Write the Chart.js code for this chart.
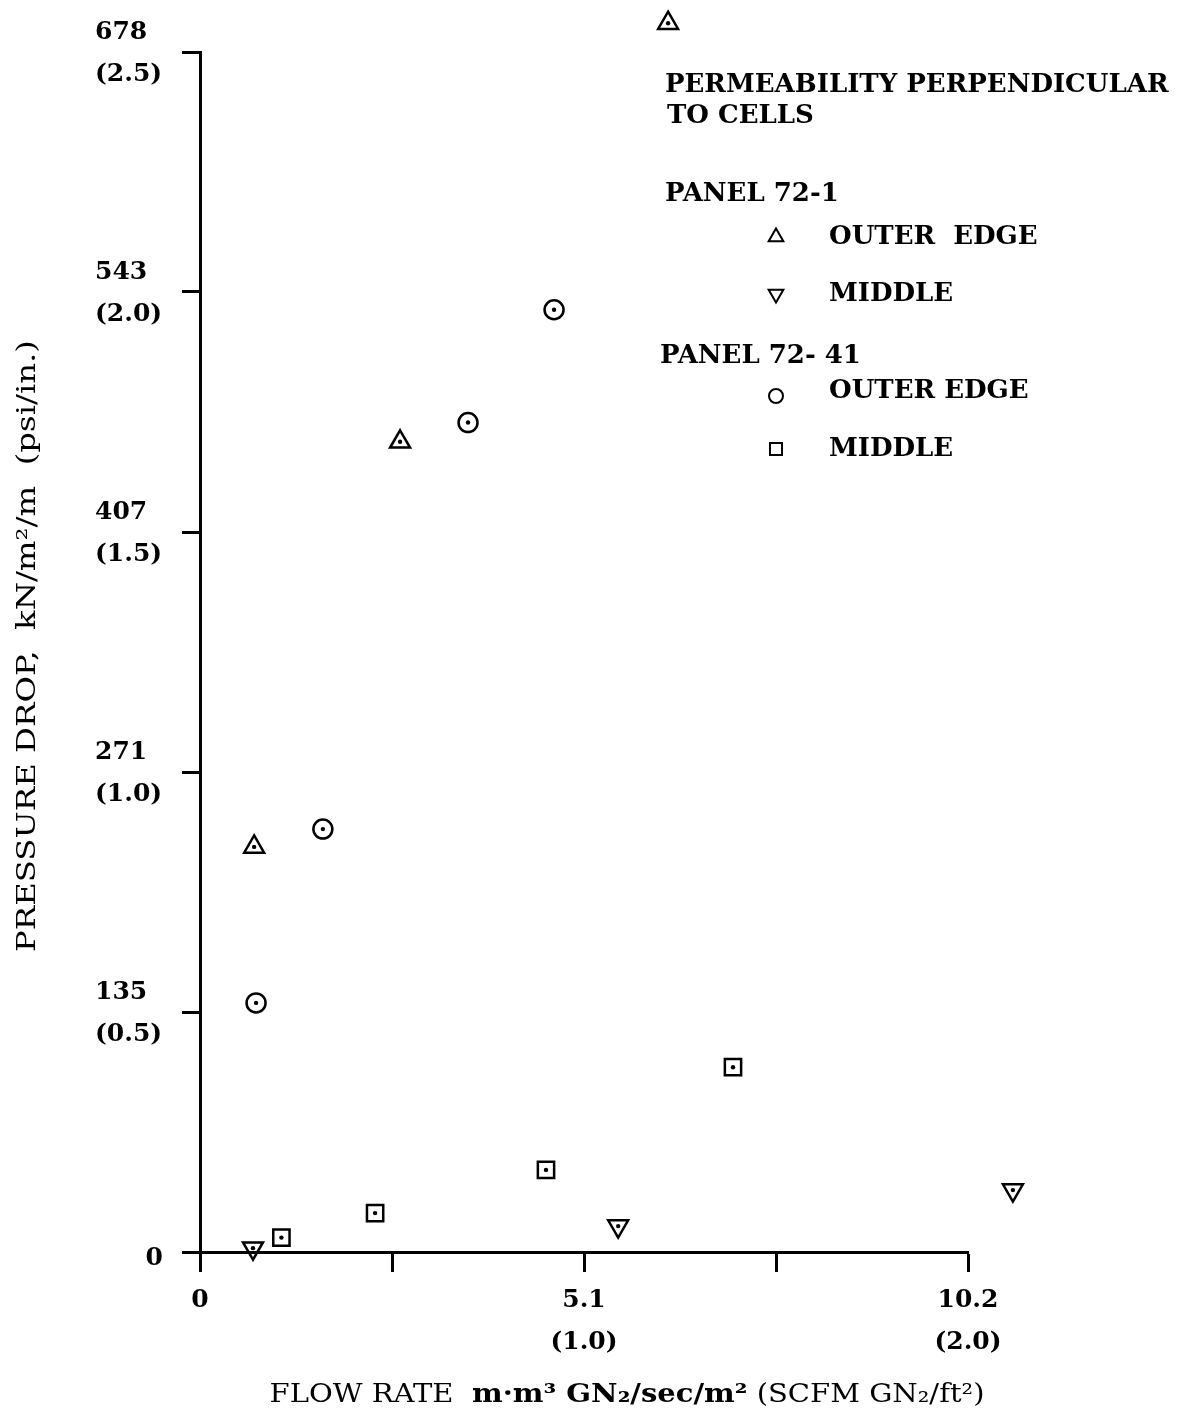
<!DOCTYPE html>
<html>
<head>
<meta charset="utf-8">
<script src="https://cdn.jsdelivr.net/npm/chart.js@4.4.1/dist/chart.umd.min.js"></script>
<style>
  html, body { margin: 0; padding: 0; background: #fff; }
  #wrap { width: 1187px; height: 1424px; position: relative; }
</style>
</head>
<body>
<div id="wrap"><canvas id="permChart"></canvas></div>
<script>
// 数据：流量 (SCFM GN2/ft2) 与压降 (psi/in.)
// PANEL 72-1
const outer721X = [0.141, 0.521, 1.219];
const outer721Y = [0.844, 1.688, 2.560];
const middle721X = [0.138, 1.089, 2.117];
const middle721Y = [0.008, 0.054, 0.129];
// PANEL 72-41
const outer7241X = [0.146, 0.320, 0.698, 0.922];
const outer7241Y = [0.519, 0.881, 1.728, 1.963];
const middle7241X = [0.212, 0.456, 0.901, 1.388];
const middle7241Y = [0.030, 0.081, 0.171, 0.385];

// 刻度
const xTickValues = [0, 0.5, 1.0, 1.5, 2.0];
const xTickSI = ['0', '', '5.1', '', '10.2'];
const xTickEng = ['', '', '(1.0)', '', '(2.0)'];
const yTickValues = [0, 0.5, 1.0, 1.5, 2.0, 2.5];
const yTickSI = ['0', '135', '271', '407', '543', '678'];
const yTickEng = ['', '(0.5)', '(1.0)', '(1.5)', '(2.0)', '(2.5)'];

// 图例 / 标题文字
const legendTitle = ['PERMEABILITY PERPENDICULAR', 'TO CELLS'];
const panelNames = ['PANEL 72-1', 'PANEL 72- 41'];
const seriesNames = ['OUTER  EDGE', 'MIDDLE', 'OUTER EDGE', 'MIDDLE'];
const yTitle = 'PRESSURE DROP,  kN/m\u00B2/m  (psi/in.)';
const xTitleParts = [
  ['FLOW RATE  ', 'normal'],
  ['m\u00B7m\u00B3 GN\u2082/sec/m\u00B2', 'bold'],
  [' (SCFM GN\u2082/ft\u00B2)', 'normal']
];

const SERIF = '"DejaVu Serif", "Liberation Serif", serif';
const toPoints = (xs, ys) => xs.map((x, i) => ({ x: x, y: ys[i] }));

// 系列样式（同时供图例使用）
const markerStyles = [
  { pointStyle: 'triangle', radius: 11.5, rotation: 0 },
  { pointStyle: 'triangle', radius: 11.5, rotation: 180 },
  { pointStyle: 'circle', radius: 9.5, rotation: 0 },
  { pointStyle: 'rect', radius: 11.5, rotation: 0 }
];

function makeDataset(label, xs, ys, style) {
  return {
    label: label,
    data: toPoints(xs, ys),
    showLine: false,
    clip: false,
    pointStyle: style.pointStyle,
    pointRadius: style.radius,
    pointHoverRadius: style.radius,
    pointRotation: style.rotation,
    pointBorderWidth: 2.5,
    pointBorderColor: '#000',
    pointBackgroundColor: 'rgba(255,255,255,0)'
  };
}

// 补画落在绘图区外的点，并在每个符号中心画一个小点
const centerDotPlugin = {
  id: 'centerDots',
  afterDatasetsDraw(chart) {
    const ctx = chart.ctx;
    const area = chart.chartArea;
    ctx.save();
    chart.data.datasets.forEach((ds, i) => {
      chart.getDatasetMeta(i).data.forEach(pt => {
        const outside = pt.x < area.left || pt.x > area.right || pt.y < area.top || pt.y > area.bottom;
        if (outside) {
          ctx.save();
          ctx.strokeStyle = pt.options.borderColor;
          ctx.lineWidth = pt.options.borderWidth;
          ctx.fillStyle = pt.options.backgroundColor;
          Chart.helpers.drawPoint(ctx, pt.options, pt.x, pt.y);
          ctx.restore();
        }
        ctx.fillStyle = '#000';
        ctx.beginPath();
        ctx.arc(pt.x, pt.y, 2.2, 0, Math.PI * 2);
        ctx.fill();
      });
    });
    ctx.restore();
  }
};

// 沿文字方向拉伸到目标宽度
function drawStretched(ctx, parts, cx, cy, targetWidth, size) {
  let total = 0;
  parts.forEach(p => {
    ctx.font = `${p[1]} ${size}px ${SERIF}`;
    total += ctx.measureText(p[0]).width;
  });
  const k = targetWidth / total;
  ctx.save();
  ctx.translate(cx, cy);
  ctx.scale(k, 1);
  let x = -total / 2;
  ctx.textAlign = 'left';
  ctx.textBaseline = 'middle';
  parts.forEach(p => {
    ctx.font = `${p[1]} ${size}px ${SERIF}`;
    ctx.fillText(p[0], x, 0);
    x += ctx.measureText(p[0]).width;
  });
  ctx.restore();
}

// y 轴双行刻度、轴标题和图例
const annotationPlugin = {
  id: 'annotations',
  afterDraw(chart) {
    const ctx = chart.ctx;
    const yScale = chart.scales.y;
    const area = chart.chartArea;
    ctx.save();
    ctx.fillStyle = '#000';

    // y 轴刻度标签
    ctx.font = `bold 25px ${SERIF}`;
    ctx.textBaseline = 'middle';
    yTickValues.forEach((v, i) => {
      const py = yScale.getPixelForValue(v);
      if (yTickEng[i]) {
        ctx.textAlign = 'left';
        ctx.fillText(yTickSI[i], area.left - 105, py - 20);
        ctx.fillText(yTickEng[i], area.left - 105, py + 22);
      } else {
        ctx.textAlign = 'right';
        ctx.fillText(yTickSI[i], area.left - 37, py + 6);
      }
    });

    // y 轴标题（旋转）
    ctx.save();
    ctx.translate(area.left - 172, 646);
    ctx.rotate(-Math.PI / 2);
    drawStretched(ctx, [[yTitle, 'normal']], 0, 0, 612, 26);
    ctx.restore();

    // x 轴标题
    drawStretched(ctx, xTitleParts, 627, 1395, 715, 26);

    // 图例
    const lx = 665;
    ctx.font = `bold 26px ${SERIF}`;
    ctx.textAlign = 'left';
    ctx.textBaseline = 'middle';
    ctx.fillText(legendTitle[0], lx, 85);
    ctx.fillText(legendTitle[1], lx + 2, 116);
    ctx.fillText(panelNames[0], lx, 194);
    ctx.fillText(panelNames[1], lx - 5, 356);
    const rows = [237, 294, 391, 449];
    const legendRadius = [8.5, 8.5, 7, 8.5];
    rows.forEach((ry, i) => {
      ctx.fillText(seriesNames[i], 829, ry);
      const st = markerStyles[i];
      ctx.save();
      ctx.strokeStyle = '#000';
      ctx.lineWidth = 2;
      ctx.fillStyle = 'rgba(255,255,255,0)';
      Chart.helpers.drawPoint(ctx, {
        pointStyle: st.pointStyle,
        radius: legendRadius[i],
        rotation: st.rotation,
        borderWidth: 2
      }, 776, ry + (i === 2 ? 5 : 0));
      ctx.restore();
    });

    ctx.restore();
  }
};

const ctx = document.getElementById('permChart').getContext('2d');

new Chart(ctx, {
  type: 'scatter',
  data: {
    datasets: [
      makeDataset('72-1 OUTER EDGE', outer721X, outer721Y, markerStyles[0]),
      makeDataset('72-1 MIDDLE', middle721X, middle721Y, markerStyles[1]),
      makeDataset('72-41 OUTER EDGE', outer7241X, outer7241Y, markerStyles[2]),
      makeDataset('72-41 MIDDLE', middle7241X, middle7241Y, markerStyles[3])
    ]
  },
  options: {
    responsive: true,
    maintainAspectRatio: false,
    animation: false,
    layout: {
      padding: { top: 52, right: 219, bottom: 0, left: 0 }
    },
    plugins: {
      legend: { display: false },
      tooltip: { enabled: false }
    },
    scales: {
      x: {
        type: 'linear',
        min: 0,
        max: 2.0,
        afterBuildTicks: scale => {
          scale.ticks = xTickValues.map(v => ({ value: v }));
        },
        afterFit: scale => {
          scale.height = 172;
        },
        grid: {
          drawOnChartArea: false,
          drawTicks: true,
          tickLength: 20,
          tickWidth: 3,
          tickColor: '#000'
        },
        border: { display: true, color: '#000', width: 3 },
        ticks: {
          autoSkip: false,
          maxRotation: 0,
          padding: 8,
          color: '#000',
          font: { family: SERIF, size: 25, weight: 'bold', lineHeight: 1.66 },
          callback: (value, index) => {
            const lines = [xTickSI[index], xTickEng[index]].filter(s => s);
            return lines.length ? lines : '';
          }
        }
      },
      y: {
        type: 'linear',
        min: 0,
        max: 2.5,
        afterBuildTicks: scale => {
          scale.ticks = yTickValues.map(v => ({ value: v }));
        },
        afterFit: scale => {
          scale.width = 200;
        },
        grid: {
          drawOnChartArea: false,
          drawTicks: true,
          tickLength: 18,
          tickWidth: 3,
          tickColor: '#000'
        },
        border: { display: true, color: '#000', width: 3 },
        ticks: { display: false }
      }
    }
  },
  plugins: [centerDotPlugin, annotationPlugin]
});
</script>
</body>
</html>
